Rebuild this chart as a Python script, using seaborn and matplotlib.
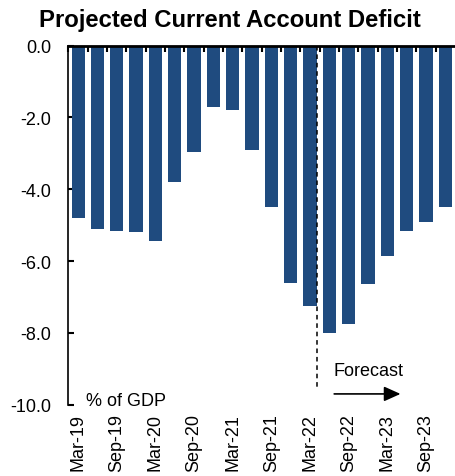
import numpy as np
import pandas as pd
import matplotlib
matplotlib.use("Agg")
import matplotlib.pyplot as plt
import seaborn as sns

# Quarterly current account balance, % of GDP
quarters = ["Mar-19", "Jun-19", "Sep-19", "Dec-19",
            "Mar-20", "Jun-20", "Sep-20", "Dec-20",
            "Mar-21", "Jun-21", "Sep-21", "Dec-21",
            "Mar-22", "Jun-22", "Sep-22", "Dec-22",
            "Mar-23", "Jun-23", "Sep-23", "Dec-23"]
balance = [-4.8, -5.1, -5.15, -5.2,
           -5.45, -3.8, -2.95, -1.7,
           -1.8, -2.9, -4.5, -6.6,
           -7.25, -8.0, -7.75, -6.65,
           -5.85, -5.15, -4.9, -4.5]
yticks = [0.0, -2.0, -4.0, -6.0, -8.0, -10.0]
last_actual = "Mar-22"

df = pd.DataFrame({"quarter": quarters, "balance": balance})

sns.set_style("white", {"text.color": "black", "axes.labelcolor": "black",
                        "xtick.color": "black", "ytick.color": "black"})
plt.rcParams["font.family"] = ["Liberation Sans", "DejaVu Sans"]
plt.rcParams["axes.unicode_minus"] = False

BAR = "#1F4B7F"
BAR_W = 0.68
FS = 13.0

fig = plt.figure(figsize=(4.55, 4.77), dpi=100)
ax = fig.add_axes([0.1495, 0.1495, 0.8505, 0.7526])

sns.barplot(data=df, x="quarter", y="balance", color=BAR, saturation=1,
            width=BAR_W, linewidth=0, ax=ax)

ax.set_ylim(-10, 0)
ax.set_xlim(-0.52, len(quarters) - 0.5)
ax.set_xlabel("")
ax.set_ylabel("")

# y axis: inward ticks, one decimal
ax.set_yticks(yticks)
ax.set_yticklabels([f"{v:.1f}" for v in yticks], fontsize=FS, color="black")
ax.tick_params(axis="y", direction="in", length=4, width=1.5, color="black",
               pad=12, left=True)

# x labels every half year, rotated, no tick marks
pos = np.arange(len(quarters))
ax.set_xticks(pos[::2])
ax.set_xticklabels(quarters[::2], rotation=90, fontsize=FS, color="black")
ax.tick_params(axis="x", length=0, pad=6, bottom=True)

for side in ("right", "bottom"):
    ax.spines[side].set_visible(False)
ax.spines["left"].set_color("black")
ax.spines["left"].set_linewidth(1.2)
ax.spines["top"].set_color("black")
ax.spines["top"].set_linewidth(2.0)

# category separators along the zero line
top = ax.secondary_xaxis("top")
top.set_xticks(pos - 0.5)
top.set_xticklabels([])
top.tick_params(axis="x", direction="in", length=4, width=1.5, color="black")
top.spines["top"].set_visible(False)

# forecast divider
split = quarters.index(last_actual) + BAR_W / 2 + 0.03
ax.plot([split, split], [0, -9.5], color="black", lw=1.1,
        linestyle=(0, (3, 2.5)), zorder=3)

ax.text(15.0, -9.05, "Forecast", fontsize=FS, ha="center", va="center",
        color="black")
ax.annotate("", xy=(16.68, -9.7), xytext=(13.25, -9.7),
            arrowprops=dict(arrowstyle="-|>,head_length=1.0,head_width=0.45",
                            color="black", lw=1.2, shrinkA=0, shrinkB=0))

ax.text(0.42, -10.0, "% of GDP", fontsize=FS, ha="left", va="baseline",
        color="black")

fig.text(0.505, 1 - 27 / 477, "Projected Current Account Deficit",
         fontsize=17.2, fontweight="bold", ha="center", va="baseline",
         color="black")

fig.savefig("out.png", dpi=100)
